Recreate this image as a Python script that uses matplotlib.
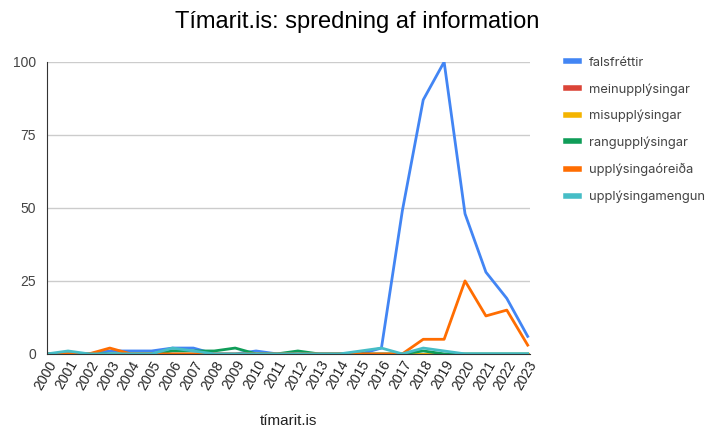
import matplotlib.pyplot as plt
import numpy as np

years = list(range(2000, 2024))
falsfrettir = [0, 0, 0, 1, 1, 1, 2, 2, 0, 0, 1, 0, 0, 0, 0, 0, 2, 49, 87, 100, 48, 28, 19, 6]
meinupplysingar = [0] * 24
misupplysingar = [0] * 24
rangupplysingar = [0, 0, 0, 0, 0, 0, 1, 1, 1, 2, 0, 0, 1, 0, 0, 0, 0, 0, 1, 0, 0, 0, 0, 0]
upplysingaoreida = [0, 0, 0, 2, 0, 0, 0, 0, 0, 0, 0, 0, 0, 0, 0, 0, 0, 0, 5, 5, 25, 13, 15, 3]
upplysingamengun = [0, 1, 0, 0, 0, 0, 2, 1, 0, 0, 0, 0, 0, 0, 0, 1, 2, 0, 2, 1, 0, 0, 0, 0]

names = ["falsfréttir", "meinupplýsingar", "misupplýsingar",
         "rangupplýsingar", "upplýsingaóreiða", "upplýsingamengun"]
series = [falsfrettir, meinupplysingar, misupplysingar,
          rangupplysingar, upplysingaoreida, upplysingamengun]
colors = ["#4285f4", "#db4437", "#f4b400", "#0f9d58", "#ff6d01", "#46bdc6"]

plt.rcParams['font.family'] = ['Liberation Sans', 'DejaVu Sans']

fig = plt.figure(figsize=(7.14, 4.3), dpi=100)
ax = fig.add_axes((0.066, 0.177, 0.676, 0.679))

x = np.arange(len(years))
for vals, name, c in zip(series, names, colors):
    ax.plot(x, vals, color=c, lw=2, label=name)

ax.set_xlim(0, len(years) - 1 + 0.1)
ax.set_ylim(0, 100)
ax.set_yticks([0, 25, 50, 75, 100])
ax.set_xticks(x)
ax.set_xticklabels([str(y) for y in years], rotation=60, ha='right',
                   rotation_mode='anchor', fontsize=10, color='#222222')
ax.tick_params(axis='y', labelsize=10, colors='#444444', length=0, pad=8)
ax.tick_params(axis='x', length=0, pad=3)
ax.grid(axis='y', color='#cccccc', lw=1)
ax.set_axisbelow(True)
for s in ['top', 'right']:
    ax.spines[s].set_visible(False)
ax.spines['left'].set_color('#333333')
ax.spines['bottom'].set_color('#333333')

ax.set_xlabel("tímarit.is", fontsize=11, color='#222222', labelpad=16)
fig.suptitle("Tímarit.is: spredning af information", fontsize=17, y=0.975)

fig.legend(loc='upper left', bbox_to_anchor=(0.776, 0.895), frameon=False,
           handlelength=1.0, labelspacing=1.1, handletextpad=0.8,
           prop={'family': ['Inter', 'DejaVu Sans'], 'size': 9.3})
for t in fig.legends[0].get_texts():
    t.set_color('#444444')
for l in fig.legends[0].get_lines():
    l.set_linewidth(4)

fig.savefig("out.png", dpi=100)
